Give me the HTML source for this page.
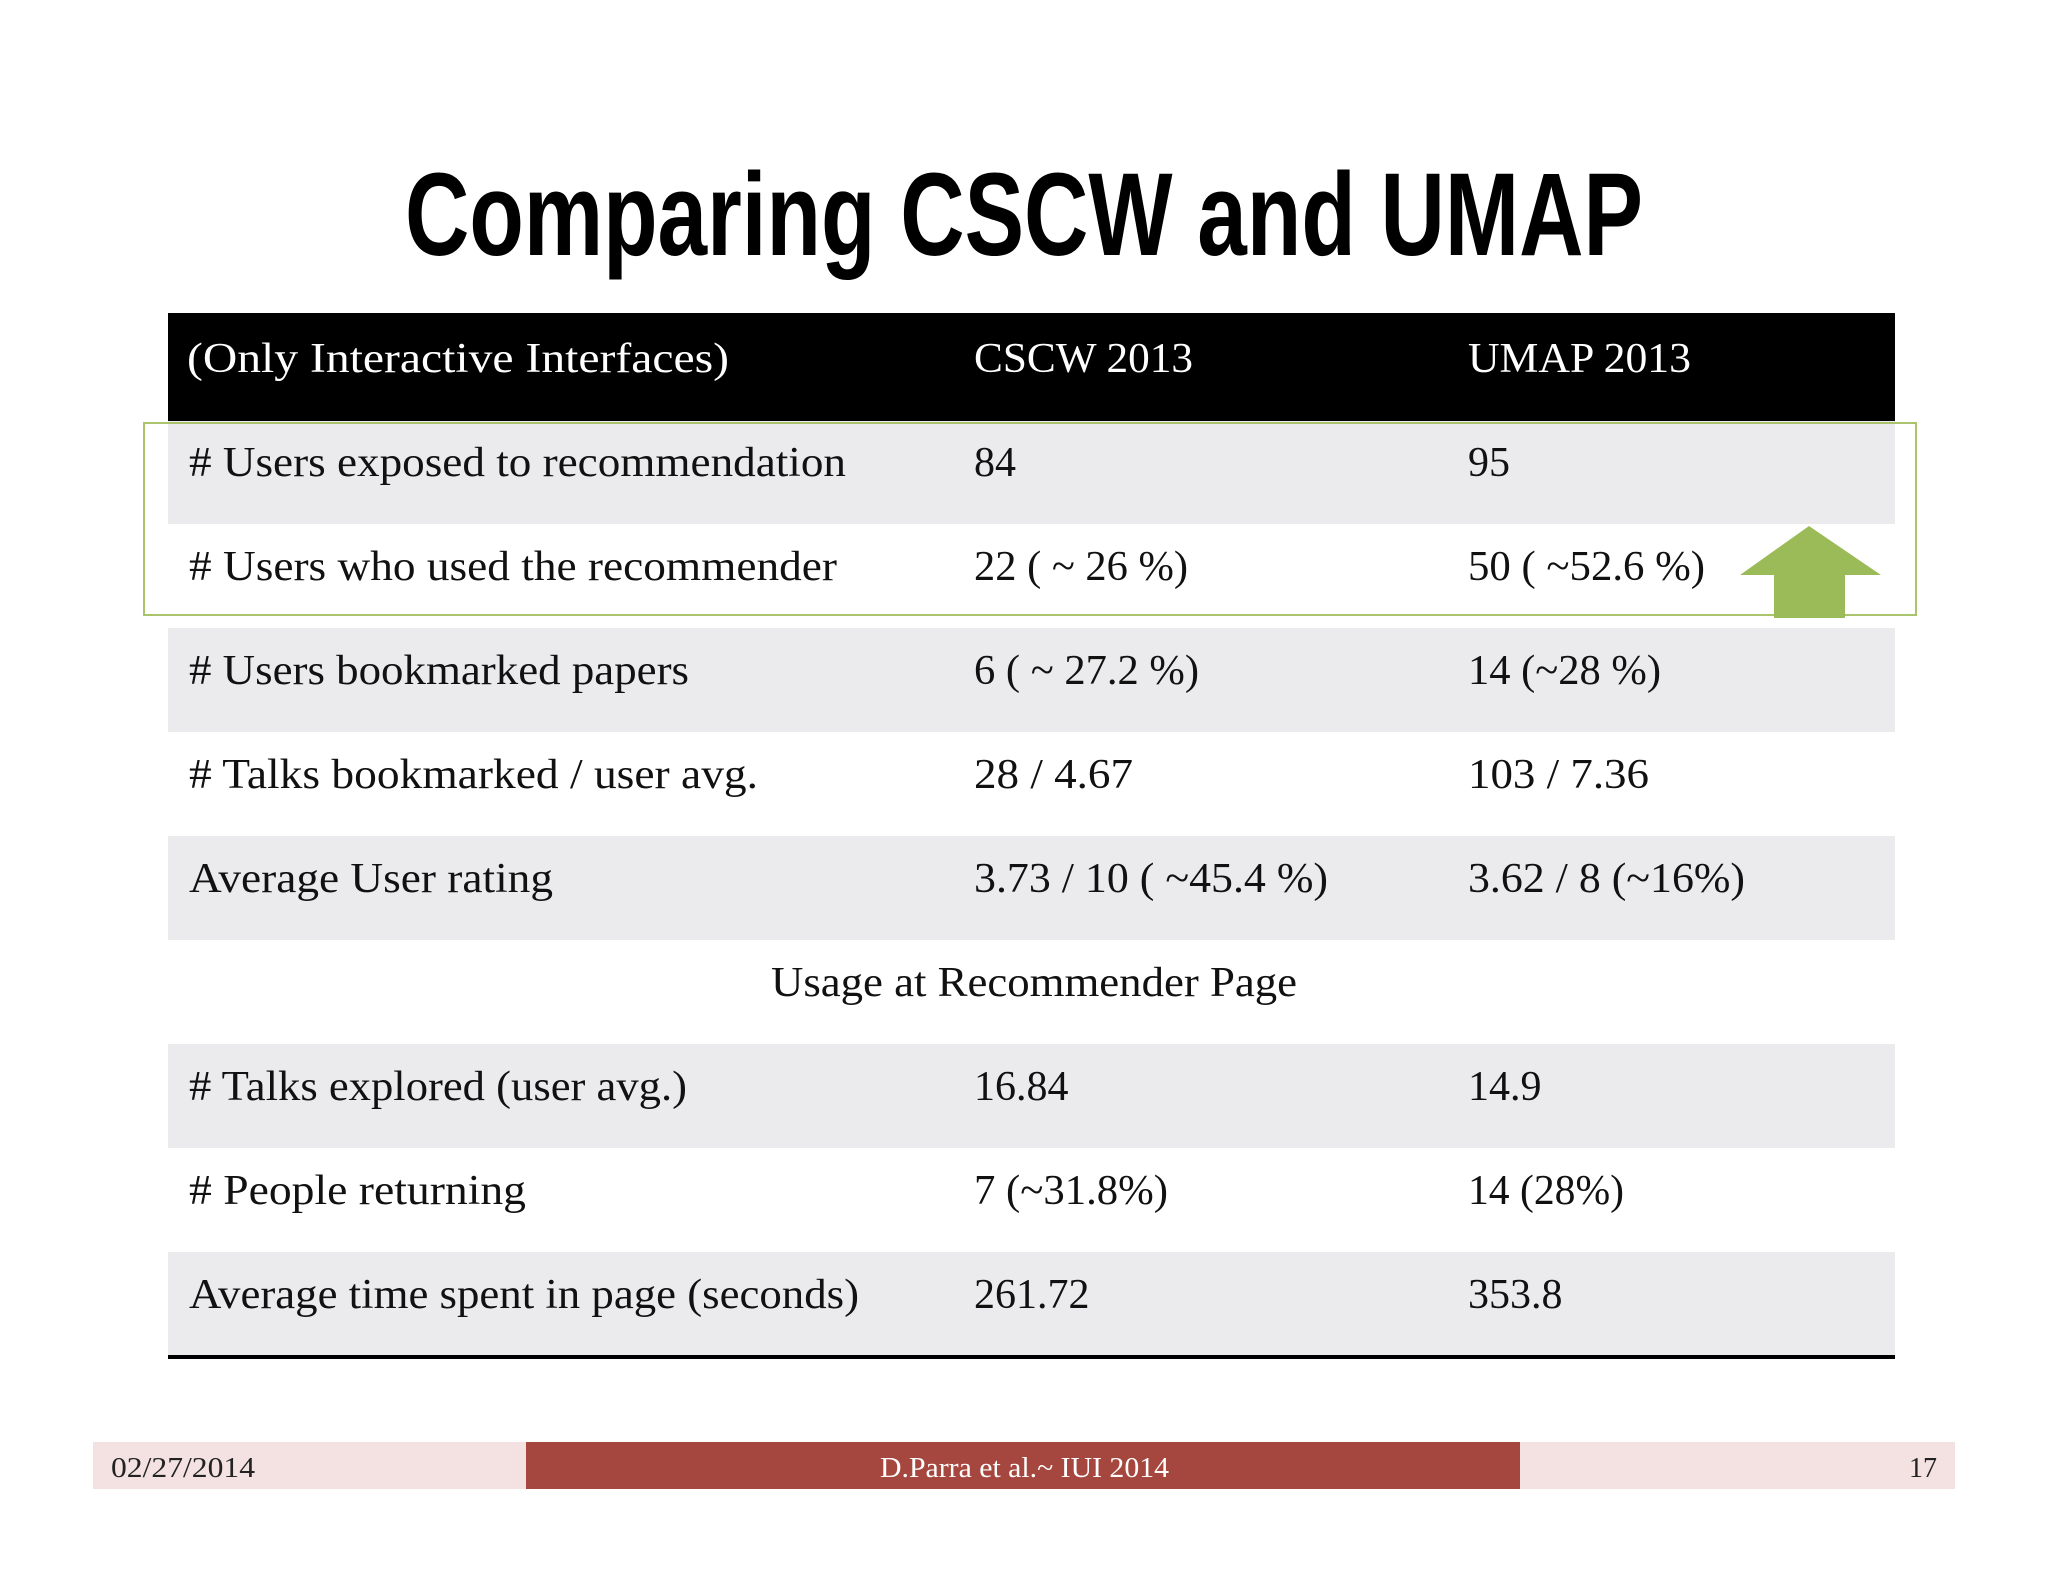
<!DOCTYPE html>
<html><head><meta charset="utf-8"><style>
html,body{margin:0;padding:0;background:#fff;}
svg{display:block;}
.t{font-family:"Liberation Serif",serif;font-size:42px;fill:#111;}
.h{font-family:"Liberation Serif",serif;font-size:42px;fill:#fff;}
</style></head><body>
<svg width="2048" height="1582" viewBox="0 0 2048 1582" xmlns="http://www.w3.org/2000/svg">
<text x="405" y="255" textLength="1238" lengthAdjust="spacingAndGlyphs" style="font-family:'Liberation Sans Narrow','Liberation Sans',sans-serif;font-weight:bold;font-size:118px;fill:#000">Comparing CSCW and UMAP</text>
<g>
<rect x="168" y="313" width="1727" height="108" fill="#000"/>
<text class="h" x="187" y="372" textLength="542" lengthAdjust="spacingAndGlyphs">(Only Interactive Interfaces)</text>
<text class="h" x="974" y="372" textLength="219" lengthAdjust="spacingAndGlyphs">CSCW 2013</text>
<text class="h" x="1468" y="372" textLength="223" lengthAdjust="spacingAndGlyphs">UMAP 2013</text>

<rect x="168" y="421" width="1727" height="103" fill="#ebebed"/>
<rect x="168" y="628" width="1727" height="104" fill="#ebebed"/>
<rect x="168" y="836" width="1727" height="104" fill="#ebebed"/>
<rect x="168" y="1044" width="1727" height="104" fill="#ebebed"/>
<rect x="168" y="1252" width="1727" height="104" fill="#ebebed"/>
<rect x="168" y="1355" width="1727" height="4" fill="#000"/>

<text class="t" x="189" y="476" textLength="657" lengthAdjust="spacingAndGlyphs"># Users exposed to recommendation</text>
<text class="t" x="974" y="476">84</text>
<text class="t" x="1468" y="476">95</text>

<text class="t" x="189" y="580" textLength="648" lengthAdjust="spacingAndGlyphs"># Users who used the recommender</text>
<text class="t" x="974" y="580" textLength="214" lengthAdjust="spacingAndGlyphs">22 ( ~ 26 %)</text>
<text class="t" x="1468" y="580" textLength="237" lengthAdjust="spacingAndGlyphs">50 ( ~52.6 %)</text>

<text class="t" x="189" y="684" textLength="500" lengthAdjust="spacingAndGlyphs"># Users bookmarked papers</text>
<text class="t" x="974" y="684" textLength="225" lengthAdjust="spacingAndGlyphs">6 ( ~ 27.2 %)</text>
<text class="t" x="1468" y="684" textLength="193" lengthAdjust="spacingAndGlyphs">14 (~28 %)</text>

<text class="t" x="189" y="788" textLength="569" lengthAdjust="spacingAndGlyphs"># Talks bookmarked / user avg.</text>
<text class="t" x="974" y="788" textLength="159" lengthAdjust="spacingAndGlyphs">28 / 4.67</text>
<text class="t" x="1468" y="788" textLength="181" lengthAdjust="spacingAndGlyphs">103 / 7.36</text>

<text class="t" x="189" y="892" textLength="364" lengthAdjust="spacingAndGlyphs">Average User rating</text>
<text class="t" x="974" y="892" textLength="354" lengthAdjust="spacingAndGlyphs">3.73 / 10 ( ~45.4 %)</text>
<text class="t" x="1468" y="892" textLength="277" lengthAdjust="spacingAndGlyphs">3.62 / 8 (~16%)</text>

<text class="t" x="1034" y="996" text-anchor="middle" textLength="526" lengthAdjust="spacingAndGlyphs">Usage at Recommender Page</text>

<text class="t" x="189" y="1100" textLength="498" lengthAdjust="spacingAndGlyphs"># Talks explored (user avg.)</text>
<text class="t" x="974" y="1100">16.84</text>
<text class="t" x="1468" y="1100">14.9</text>

<text class="t" x="189" y="1204" textLength="337" lengthAdjust="spacingAndGlyphs"># People returning</text>
<text class="t" x="974" y="1204" textLength="194" lengthAdjust="spacingAndGlyphs">7 (~31.8%)</text>
<text class="t" x="1468" y="1204" textLength="156" lengthAdjust="spacingAndGlyphs">14 (28%)</text>

<text class="t" x="189" y="1308" textLength="670" lengthAdjust="spacingAndGlyphs">Average time spent in page (seconds)</text>
<text class="t" x="974" y="1308">261.72</text>
<text class="t" x="1468" y="1308">353.8</text>
</g>
<rect x="144" y="423" width="1772" height="192" fill="none" stroke="#a9c46c" stroke-width="2"/>
<polygon points="1809,526 1881,575 1845,575 1845,618 1774,618 1774,575 1740,575" fill="#9bbb59"/>
<g>
<rect x="93" y="1442" width="1862" height="47" fill="#f4e1e2"/>
<rect x="526" y="1442" width="994" height="47" fill="#a5473f"/>
<text x="111" y="1477" textLength="144" lengthAdjust="spacingAndGlyphs" style="font-family:'Liberation Serif',serif;font-size:28px;fill:#222">02/27/2014</text>
<text x="880" y="1477" textLength="289" lengthAdjust="spacingAndGlyphs" style="font-family:'Liberation Serif',serif;font-size:28px;fill:#fff">D.Parra et al.~ IUI 2014</text>
<text x="1937" y="1477" text-anchor="end" style="font-family:'Liberation Serif',serif;font-size:28px;fill:#222">17</text>
</g>
</svg>
</body></html>
